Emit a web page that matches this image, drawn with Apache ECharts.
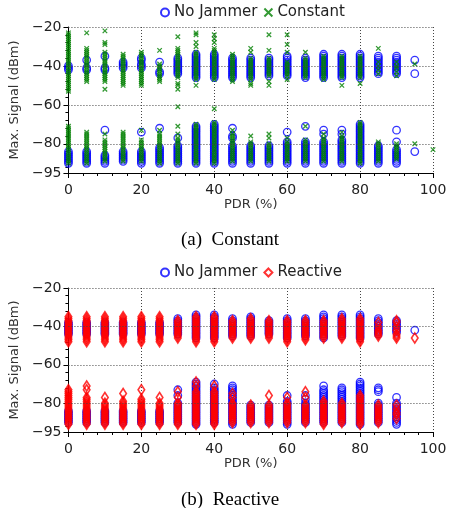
<!DOCTYPE html>
<html><head><meta charset="utf-8">
<script src="https://cdn.jsdelivr.net/npm/echarts@6/dist/echarts.min.js"></script>
<style>html,body{margin:0;padding:0;background:#fff}#c{width:451px;height:508px}</style>
</head><body><div id="c"></div>
<script>
const pdr = [0,5,10,15,20,25,30,35,40,45,50,55,60,65,70,75,80,85,90,95,100];
const yTicks = [-95,-80,-60,-40,-20];
const yGridLines = [-80,-60,-40,-20];
const yMinorTicks = [-92,-88,-84,-76,-72,-68,-64,-56,-52,-48,-44,-36,-32,-28,-24];

// (a) Constant — No Jammer, one list per PDR column
const noJammerA = [
 [-40,-41,-42,-84,-85,-86,-87,-88,-89,-90],
 [-37,-41,-42,-84,-85,-86,-87,-88,-89,-90],
 [-35,-41,-42,-73,-86,-87,-88,-89,-90],
 [-38,-39,-40,-41,-84,-85,-86,-87,-88,-89],
 [-36,-37,-39,-40,-41,-74,-84,-85,-86,-87,-88,-89,-90],
 [-38,-43,-44,-72,-82,-83,-84,-85,-86,-87,-88,-89,-90],
 [-36,-37,-38,-39,-40,-41,-42,-43,-44,-77,-81,-82,-83,-84,-85,-86,-87,-88,-89,-90],
 [-34,-35,-36,-37,-38,-39,-40,-41,-42,-43,-44,-45,-46,-71,-72,-73,-74,-75,-76,-77,-78,-79,-80,-81,-82,-83,-84,-85,-86,-87,-88,-89,-90],
 [-34,-35,-36,-37,-38,-39,-40,-41,-42,-43,-44,-45,-46,-70,-71,-72,-73,-74,-75,-76,-77,-78,-79,-80,-81,-82,-83,-84,-85,-86,-87,-88,-89,-90],
 [-36,-37,-38,-39,-40,-41,-42,-43,-44,-45,-46,-72,-76,-77,-81,-82,-83,-84,-85,-86,-87,-88,-89,-90],
 [-36,-37,-38,-39,-40,-41,-42,-43,-44,-45,-46,-81,-82,-83,-84,-85,-86,-87,-88,-89,-90],
 [-36,-37,-38,-39,-40,-41,-42,-43,-44,-45,-81,-82,-83,-84,-85,-86,-87,-88,-89,-90],
 [-35,-36,-37,-38,-39,-40,-41,-42,-43,-44,-45,-74,-79,-80,-81,-82,-83,-84,-85,-86,-87,-88,-89,-90],
 [-36,-37,-38,-39,-40,-41,-42,-43,-44,-45,-46,-71,-79,-80,-81,-82,-83,-84,-85,-86,-87,-88,-89,-90],
 [-34,-35,-36,-37,-38,-39,-40,-41,-42,-43,-44,-45,-46,-73,-75,-79,-80,-81,-82,-83,-84,-85,-86,-87,-88,-89,-90],
 [-34,-35,-36,-37,-38,-39,-40,-41,-42,-43,-44,-45,-46,-73,-75,-78,-79,-80,-81,-82,-83,-84,-85,-86,-87,-88,-89,-90],
 [-34,-35,-36,-37,-38,-39,-40,-41,-42,-43,-44,-45,-46,-70,-71,-72,-73,-74,-75,-76,-77,-78,-79,-80,-81,-82,-83,-84,-85,-86,-87,-88,-89,-90],
 [-35,-36,-37,-38,-39,-40,-41,-42,-43,-44,-81,-82,-83,-84,-85,-86,-87,-88,-89,-90],
 [-35,-36,-37,-38,-39,-40,-41,-42,-43,-44,-73,-79,-83,-84,-85,-86,-87,-88,-89,-90],
 [-37,-44,-84],
 []
];

// (a) Constant — Constant jammer
const constantA = [
 [-23,-24,-25,-26,-27,-28,-29,-30,-31,-32,-33,-34,-35,-36,-37,-38,-39,-40,-41,-42,-43,-44,-45,-46,-47,-48,-49,-50,-51,-52,-53,-71,-72,-73,-74,-75,-76,-77,-78,-79,-80,-81,-82,-83,-84,-85,-86,-87,-88,-89,-90],
 [-23,-31,-32,-33,-34,-35,-36,-37,-38,-39,-40,-41,-42,-43,-44,-45,-46,-47,-48,-74,-75,-76,-77,-78,-79,-80,-81,-82,-83,-84,-85,-86,-87,-88,-89,-90],
 [-22,-28,-29,-33,-34,-35,-36,-37,-38,-39,-40,-41,-42,-43,-44,-45,-46,-47,-48,-52,-75,-78,-79,-80,-81,-82,-83,-84,-85,-86,-87,-88,-89],
 [-34,-35,-36,-37,-38,-39,-40,-41,-42,-43,-44,-45,-46,-47,-48,-49,-50,-74,-75,-76,-77,-78,-79,-80,-81,-82,-83,-84,-85,-86,-87,-88,-89],
 [-33,-34,-35,-36,-37,-38,-39,-40,-41,-42,-43,-44,-45,-46,-47,-48,-49,-50,-73,-78,-79,-80,-81,-82,-83,-84,-85,-86,-87,-88,-89],
 [-32,-39,-40,-41,-42,-43,-44,-45,-46,-47,-48,-73,-75,-76,-77,-78,-79,-80,-81,-82,-83,-84,-85,-86,-87,-88,-89,-90],
 [-25,-31,-32,-33,-34,-35,-36,-37,-38,-39,-40,-41,-42,-43,-44,-45,-46,-49,-50,-52,-61,-71,-75,-77,-78,-79,-80,-81,-82,-83,-84,-85,-86,-87,-88,-89,-90],
 [-23,-24,-28,-30,-33,-34,-35,-36,-37,-38,-39,-40,-41,-42,-43,-44,-45,-46,-47,-50,-70,-71,-72,-73,-74,-75,-76,-77,-78,-79,-80,-81,-82,-83,-84,-85,-86,-87,-88,-89,-90],
 [-24,-26,-28,-31,-32,-33,-34,-35,-36,-37,-38,-39,-40,-41,-42,-43,-44,-45,-46,-47,-62,-69,-70,-71,-72,-73,-74,-75,-76,-77,-78,-79,-80,-81,-82,-83,-84,-85,-86,-87,-88,-89,-90],
 [-34,-35,-36,-37,-38,-39,-40,-41,-42,-43,-44,-45,-46,-47,-48,-73,-75,-76,-77,-78,-79,-80,-81,-82,-83,-84,-85,-86,-87,-88,-89],
 [-31,-33,-36,-37,-38,-39,-40,-41,-42,-43,-44,-45,-46,-47,-49,-50,-76,-79,-80,-81,-82,-83,-84,-85,-86,-87,-88,-89],
 [-24,-32,-36,-37,-38,-39,-40,-41,-42,-43,-44,-45,-48,-50,-75,-77,-80,-81,-82,-83,-84,-85,-86,-87,-88,-89],
 [-24,-29,-33,-38,-39,-40,-41,-42,-43,-44,-45,-47,-77,-79,-80,-81,-82,-83,-84,-85,-86,-87,-88,-89],
 [-33,-36,-37,-38,-39,-40,-41,-42,-43,-44,-45,-46,-71,-78,-79,-80,-81,-82,-83,-84,-85,-86,-87,-88,-89],
 [-35,-36,-37,-38,-39,-40,-41,-42,-43,-44,-45,-46,-47,-75,-77,-78,-79,-80,-81,-82,-83,-84,-85,-86,-87,-88,-89],
 [-35,-36,-37,-38,-39,-40,-41,-42,-43,-44,-45,-46,-50,-74,-76,-77,-78,-79,-80,-81,-82,-83,-84,-85,-86,-87,-88,-89],
 [-35,-36,-37,-38,-39,-40,-41,-42,-43,-44,-45,-46,-49,-69,-70,-71,-72,-73,-74,-75,-76,-77,-78,-79,-80,-81,-82,-83,-84,-85,-86,-87,-88,-89,-90],
 [-31,-38,-40,-42,-44,-79,-80,-81,-82,-83,-84,-85,-86,-87,-88,-89],
 [-38,-40,-41,-43,-45,-80,-81,-82,-83,-84,-85,-86,-87,-88],
 [-39,-80],
 [-83]
];

// (b) Reactive — No Jammer
const noJammerB = [
 [-38,-39,-40,-41,-42,-43,-44,-84,-85,-86,-87,-88,-89,-90],
 [-38,-39,-40,-41,-42,-43,-44,-84,-85,-86,-87,-88,-89,-90],
 [-38,-39,-40,-41,-42,-43,-44,-84,-85,-86,-87,-88,-89,-90],
 [-38,-39,-40,-41,-42,-43,-44,-84,-85,-86,-87,-88,-89,-90],
 [-38,-39,-40,-41,-42,-43,-44,-84,-85,-86,-87,-88,-89,-90],
 [-38,-39,-40,-41,-42,-43,-44,-84,-85,-86,-87,-88,-89,-90],
 [-36,-37,-38,-39,-40,-41,-42,-43,-44,-73,-76,-80,-81,-82,-83,-84,-85,-86,-87,-88,-89,-90],
 [-34,-35,-36,-37,-38,-39,-40,-41,-42,-43,-44,-45,-46,-69,-70,-71,-72,-73,-74,-75,-76,-77,-78,-79,-80,-81,-82,-83,-84,-85,-86,-87,-88,-89,-90,-91],
 [-34,-35,-36,-37,-38,-39,-40,-41,-42,-43,-44,-45,-46,-70,-72,-73,-74,-75,-76,-77,-78,-79,-80,-81,-82,-83,-84,-85,-86,-87,-88,-89,-90],
 [-36,-37,-38,-39,-40,-41,-42,-43,-44,-45,-71,-72,-73,-74,-75,-76,-77,-78,-79,-80,-81,-82,-83,-84,-85,-86,-87,-88,-89,-90,-91],
 [-35,-36,-37,-38,-39,-40,-41,-42,-43,-44,-45,-81,-82,-83,-84,-85,-86,-87,-88,-89,-90],
 [-37,-38,-39,-40,-41,-42,-43,-44,-81,-82,-83,-84,-85,-86,-87,-88,-89,-90],
 [-36,-37,-38,-39,-40,-41,-42,-43,-44,-45,-46,-76,-79,-80,-81,-82,-83,-84,-85,-86,-87,-88,-89,-90,-91],
 [-36,-37,-38,-39,-40,-41,-42,-43,-44,-45,-76,-78,-80,-81,-82,-83,-84,-85,-86,-87,-88,-89,-90],
 [-34,-35,-36,-37,-38,-39,-40,-41,-42,-43,-44,-45,-46,-71,-73,-74,-75,-76,-77,-78,-79,-80,-81,-82,-83,-84,-85,-86,-87,-88,-89,-90],
 [-34,-35,-36,-37,-38,-39,-40,-41,-42,-43,-44,-45,-72,-73,-74,-75,-76,-77,-78,-79,-80,-81,-82,-83,-84,-85,-86,-87,-88,-89,-90],
 [-34,-35,-36,-37,-38,-39,-40,-41,-42,-43,-44,-45,-46,-69,-70,-71,-72,-73,-74,-75,-76,-77,-78,-79,-80,-81,-82,-83,-84,-85,-86,-87,-88,-89,-90,-91],
 [-36,-37,-38,-39,-40,-41,-42,-43,-44,-72,-73,-74,-80,-81,-82,-83,-84,-85,-86,-87,-88,-89,-90],
 [-37,-38,-39,-40,-41,-42,-43,-77,-80,-81,-82,-83,-84,-85,-86,-87,-88,-89,-90,-91],
 [-42],
 []
];

// (b) Reactive — Reactive jammer
const reactiveB = [
 [-35,-36,-37,-38,-39,-40,-41,-42,-43,-44,-45,-46,-47,-48,-73,-74,-75,-76,-77,-78,-79,-80,-81,-82,-83,-84,-85,-86,-87,-88,-89,-90,-91],
 [-35,-36,-37,-38,-39,-40,-41,-42,-43,-44,-45,-46,-47,-48,-71,-73,-77,-78,-79,-80,-81,-82,-83,-84,-85,-86,-87,-88,-89,-90,-91],
 [-35,-36,-37,-38,-39,-40,-41,-42,-43,-44,-45,-46,-47,-48,-77,-80,-81,-82,-83,-84,-85,-86,-87,-88,-89,-90,-91],
 [-35,-36,-37,-38,-39,-40,-41,-42,-43,-44,-45,-46,-47,-48,-75,-79,-80,-81,-82,-83,-84,-85,-86,-87,-88,-89,-90,-91],
 [-35,-36,-37,-38,-39,-40,-41,-42,-43,-44,-45,-46,-47,-48,-73,-78,-79,-80,-81,-82,-83,-84,-85,-86,-87,-88,-89,-90,-91],
 [-35,-36,-37,-38,-39,-40,-41,-42,-43,-44,-45,-46,-47,-48,-77,-80,-81,-82,-83,-84,-85,-86,-87,-88,-89,-90,-91],
 [-37,-38,-39,-40,-41,-42,-43,-44,-45,-46,-74,-77,-80,-81,-82,-83,-84,-85,-86,-87,-88,-89,-90,-91],
 [-35,-36,-37,-38,-39,-40,-41,-42,-43,-44,-45,-46,-47,-48,-69,-71,-74,-75,-76,-77,-78,-79,-80,-81,-82,-83,-84,-85,-86,-87,-88,-89,-90,-91],
 [-35,-36,-37,-38,-39,-40,-41,-42,-43,-44,-45,-46,-47,-48,-71,-74,-75,-76,-77,-78,-79,-80,-81,-82,-83,-84,-85,-86,-87,-88,-89,-90,-91],
 [-37,-38,-39,-40,-41,-42,-43,-44,-45,-46,-75,-77,-80,-81,-82,-83,-84,-85,-86,-87,-88,-89,-90],
 [-36,-37,-38,-39,-40,-41,-42,-43,-44,-45,-46,-81,-82,-83,-84,-85,-86,-87,-88,-89,-90],
 [-37,-38,-39,-40,-41,-42,-43,-44,-45,-46,-76,-81,-82,-83,-84,-85,-86,-87,-88,-89,-90],
 [-37,-38,-39,-40,-41,-42,-43,-44,-45,-46,-47,-48,-77,-80,-81,-82,-83,-84,-85,-86,-87,-88,-89,-90],
 [-37,-38,-39,-40,-41,-42,-43,-44,-45,-46,-47,-74,-77,-81,-82,-83,-84,-85,-86,-87,-88,-89,-90],
 [-37,-38,-39,-40,-41,-42,-43,-44,-45,-46,-79,-80,-81,-82,-83,-84,-85,-86,-87,-88,-89,-90,-91],
 [-36,-37,-38,-39,-40,-41,-42,-43,-44,-45,-46,-80,-81,-82,-83,-84,-85,-86,-87,-88,-89,-90],
 [-36,-37,-38,-39,-40,-41,-42,-43,-44,-45,-46,-47,-48,-76,-77,-78,-79,-80,-81,-82,-83,-84,-85,-86,-87,-88,-89,-90,-91],
 [-38,-40,-42,-43,-44,-45,-81,-82,-83,-84,-85,-86,-87,-88,-89,-90],
 [-37,-38,-40,-42,-44,-45,-46,-81,-83,-85,-86,-88],
 [-46],
 []
];

const seriesNames = ['No Jammer','Constant','Reactive'];
const captions = ['(a)  Constant','(b)  Reactive'];

function pts(cols){
  const out=[];
  cols.forEach((col,i)=>col.forEach(v=>out.push([pdr[i],v])));
  return out;
}

const FONT = 'DejaVu Sans';
const minus = v => String(v).replace('-', '\u2212');

function xAx(gi){
  return {
    gridIndex: gi, type:'value', min:0, max:100, interval:20,
    name:'PDR (%)', nameLocation:'middle', nameGap:24,
    nameTextStyle:{fontFamily:FONT,fontSize:13,color:'#333'},
    axisLine:{show:true,onZero:false,lineStyle:{color:'#000',width:1}},
    axisTick:{show:true,length:5,lineStyle:{color:'#000'}},
    minorTick:{show:true,splitNumber:5,length:3,lineStyle:{color:'#000'}},
    axisLabel:{fontFamily:FONT,fontSize:14,color:'#222',margin:10},
    splitLine:{show:true,lineStyle:{color:'#444',type:[1,2],width:1}}
  };
}
function yAx(gi){
  return {
    gridIndex: gi, type:'value', min:-95, max:-20,
    name:'Max. Signal (dBm)', nameLocation:'middle', nameGap:36,
    nameTextStyle:{fontFamily:FONT,fontSize:13,color:'#333'},
    axisLine:{show:true,onZero:false,lineStyle:{color:'#000',width:1}},
    axisTick:{show:true,length:5,customValues:yTicks,lineStyle:{color:'#000'}},
    minorTick:{show:false},
    axisLabel:{fontFamily:FONT,fontSize:14,color:'#222',margin:7,customValues:yTicks,formatter:minus},
    splitLine:{show:false}
  };
}
function yMinor(gi){
  return {
    gridIndex: gi, type:'value', min:-95, max:-20, position:'left',
    axisLine:{show:false},
    axisTick:{show:true,length:3,customValues:yMinorTicks,lineStyle:{color:'#000'}},
    axisLabel:{show:false,customValues:yMinorTicks},
    splitLine:{show:false}
  };
}

const gridMark = {
  silent:true, symbol:'none', label:{show:false},
  lineStyle:{color:'#444',type:[1,2],width:1},
  data: yGridLines.map(v=>({yAxis:v}))
};

const circleStyle = {color:'rgba(0,0,0,0)',borderColor:'#0000ff',borderWidth:1.3};
const xStyle = {color:'rgba(0,0,0,0)',borderColor:'#007f00',borderWidth:1.3};
const diaStyle = {color:'rgba(0,0,0,0)',borderColor:'#ff0000',borderWidth:1.7};

const chart = echarts.init(document.getElementById('c'), null, {renderer:'canvas'});
chart.setOption({
  animation:false,
  backgroundColor:'#fff',
  title:[
    {text:captions[0],left:176,top:226,textStyle:{fontFamily:'Liberation Serif',fontSize:19,fontWeight:'normal',color:'#000'}},
    {text:captions[1],left:176,top:486,textStyle:{fontFamily:'Liberation Serif',fontSize:19,fontWeight:'normal',color:'#000'}}
  ],
  legend:[
    {data:[seriesNames[0],seriesNames[1]],left:160,top:5,itemGap:6,itemWidth:8,itemHeight:8,padding:0,
     textStyle:{fontFamily:FONT,fontSize:15,color:'#222'}},
    {data:[seriesNames[0],seriesNames[2]],left:160,top:265,itemGap:6,itemWidth:8,itemHeight:8,padding:0,
     textStyle:{fontFamily:FONT,fontSize:15,color:'#222'}}
  ],
  grid:[
    {left:64,right:18,top:27,height:146},
    {left:65,right:18,top:288,height:144}
  ],
  xAxis:[xAx(0),xAx(1)],
  yAxis:[yAx(0),yAx(1),yMinor(0),yMinor(1)],
  series:[
    {name:seriesNames[0],type:'scatter',xAxisIndex:0,yAxisIndex:0,data:pts(noJammerA),symbol:'circle',symbolSize:7.5,itemStyle:circleStyle,large:false,markLine:gridMark,z:2},
    {name:seriesNames[1],type:'scatter',xAxisIndex:0,yAxisIndex:0,data:pts(constantA),symbol:'path://M0,0L10,10M10,0L0,10',symbolSize:4.5,itemStyle:xStyle,large:false,z:3},
    {name:seriesNames[0],type:'scatter',xAxisIndex:1,yAxisIndex:1,data:pts(noJammerB),symbol:'circle',symbolSize:7.5,itemStyle:circleStyle,large:false,markLine:gridMark,z:2},
    {name:seriesNames[2],type:'scatter',xAxisIndex:1,yAxisIndex:1,data:pts(reactiveB),symbol:'diamond',symbolSize:[6.5,10],itemStyle:diaStyle,large:false,z:3}
  ]
});
</script>
</body></html>
